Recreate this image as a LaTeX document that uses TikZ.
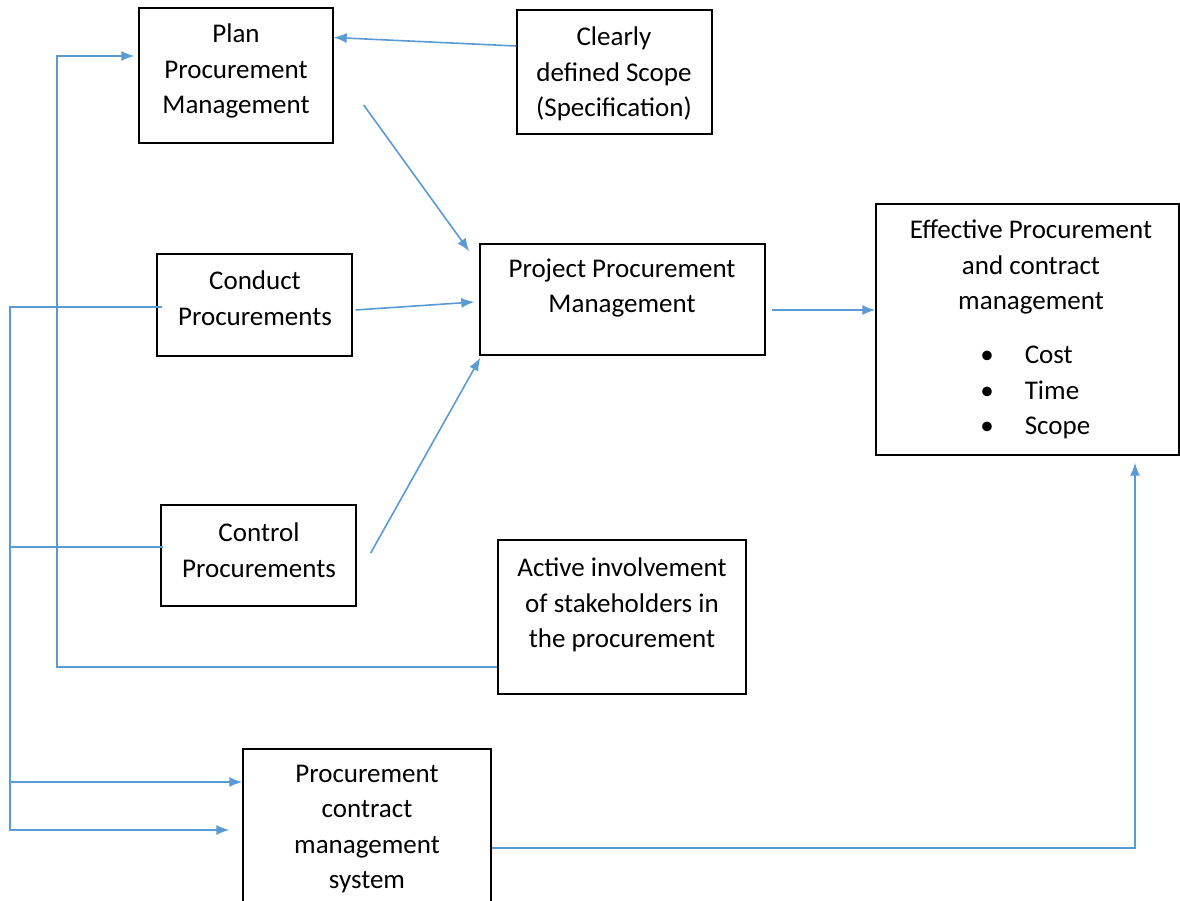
\documentclass[tikz,border=0pt]{standalone}
\usepackage{fontspec}
\setmainfont{Carlito}
\usetikzlibrary{arrows.meta,calc}
\definecolor{lineblue}{HTML}{5B9BD5}
\begin{document}
\begin{tikzpicture}[x=0.5pt,y=-0.5pt,
  box/.style={draw=black,line width=0.7pt,inner sep=0pt,fill=white},
  txt/.style={align=center,font=\fontsize{13.5}{17.75}\selectfont,inner sep=0pt},
  conn/.style={draw=lineblue,line width=0.8pt},
  arr/.style={conn,-{Latex[length=6.5pt,width=5pt]}}]
\useasboundingbox[fill=white] (0,0) rectangle (1180,901);
% boxes
\node[box,minimum width=97pt,minimum height=67.5pt] (plan) at (236,75.5) {};
\node[box,minimum width=97.5pt,minimum height=62pt] (clear) at (614.5,72) {};
\node[box,minimum width=97.5pt,minimum height=51pt] (conduct) at (254.5,305) {};
\node[box,minimum width=142.5pt,minimum height=55.5pt] (project) at (622.5,299.5) {};
\node[box,minimum width=151.5pt,minimum height=125.5pt] (eff) at (1027.5,329.5) {};
\node[box,minimum width=97.5pt,minimum height=50.5pt] (control) at (258.5,555.5) {};
\node[box,minimum width=124pt,minimum height=77pt] (active) at (622,617) {};
\node[box,minimum width=124pt,minimum height=85pt] (pcms) at (367,834) {};
% texts
\node[txt] (tplan) at (236,71) {Plan\\Procurement\\Management};
\node[txt] (tclear) at (614,74) {Clearly\\defined Scope\\(Specification)};
\node[txt] (tconduct) at (255,298) {Conduct\\Procurements};
\node[txt] (tproject) at (622,288) {Project Procurement\\Management};
\node[txt] (teff) at (1031,267) {Effective Procurement\\and contract\\management};
\node[txt,anchor=west,align=left] (tlist) at (980,392) {%
  \begin{tabular}{@{}l@{\hspace{15.5pt}}l@{}}
  \textbullet & Cost\\
  \textbullet & Time\\
  \textbullet & Scope
  \end{tabular}};
\node[txt] (tcontrol) at (259,550) {Control\\Procurements};
\node[txt] (tactive) at (622,605) {Active involvement\\of stakeholders in\\the procurement};
\node[txt] (tpcms) at (367,829) {Procurement\\contract\\management\\system};
% connector helper coordinates
\coordinate (leftbus) at (57,0);
\coordinate (farbus) at (10,0);
\coordinate (planin) at ($(plan.west)+(-4,-19.5)$);
% connectors
\draw[arr] ($(clear.west)+(0,-26)$) -- ($(plan.east)+(0,-38)$);
\draw[arr] ($(plan.east)+(30,29.5)$) -- ($(project.north west)+(-10,8)$);
\draw[arr] ($(conduct.east)+(3,5)$) -- ($(project.west)+(-5,2.5)$);
\draw[arr] ($(control.east)+(14,-2.5)$) -- ($(project.south west)+(1,2)$);
\draw[arr] ($(project.east)+(6,10.5)$) -- ($(eff.west)+(0,-19.5)$);
\draw[arr] ($(active.west)+(0,50)$) -| (leftbus |- planin) -- (planin);
\draw[arr] ($(conduct.west)+(6,2)$) -| ($(farbus)+(0,830)$) -- ($(pcms.west)+(-13,-4)$);
\draw[arr] ($(control.west)+(3,-8.5)$) -| ($(farbus)+(0,600)$) |- ($(pcms.west)+(0,-52)$);
\draw[arr] ($(pcms.east)+(0,14)$) -| ($(eff.south)+(107.5,7)$);
\end{tikzpicture}
\end{document}
